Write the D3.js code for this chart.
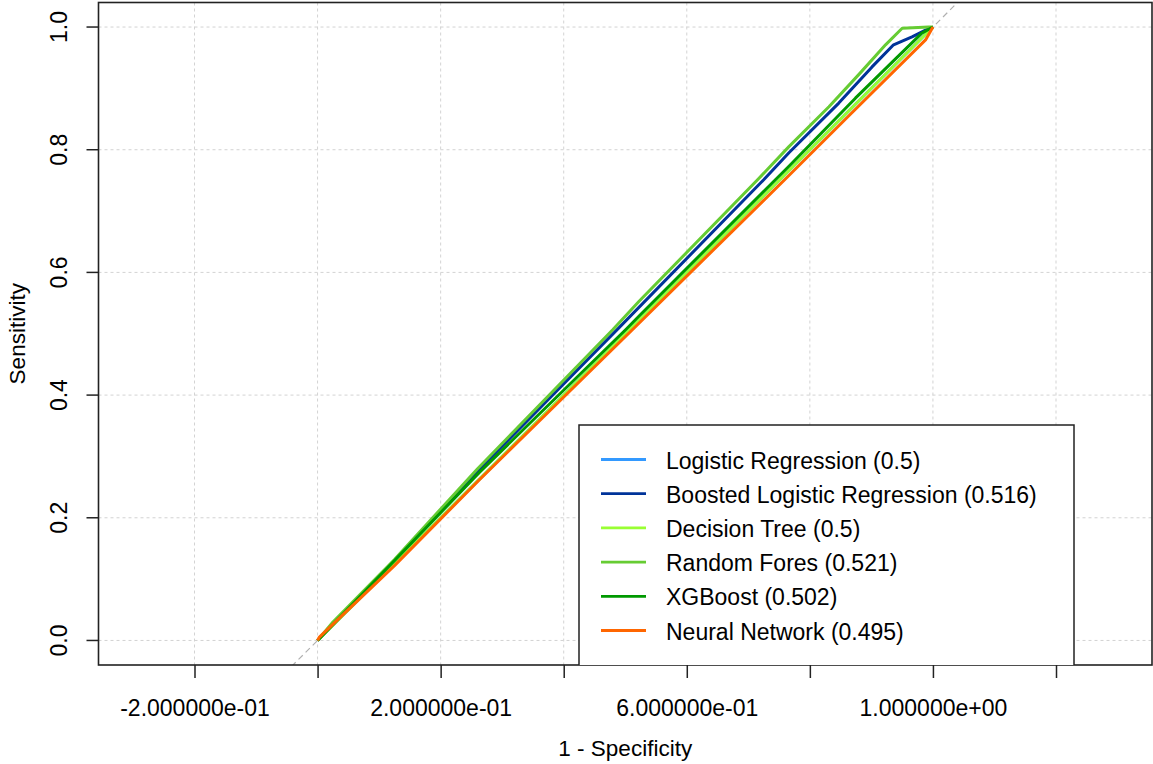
<!DOCTYPE html>
<html>
<head>
<meta charset="utf-8">
<script src="https://cdn.jsdelivr.net/npm/d3@7"></script>
<style>
  body { margin: 0; background: #fff; }
  svg { display: block; font-family: "Liberation Sans", Arial, sans-serif; }
</style>
</head>
<body>
<svg id="rocSvg" width="1153" height="764"></svg>
<script>
"use strict";

// model names + AUC as shown in the legend
var modelNames = ["Logistic Regression (0.5)", "Boosted Logistic Regression (0.516)",
  "Decision Tree (0.5)", "Random Fores (0.521)", "XGBoost (0.502)", "Neural Network (0.495)"];
var modelColors = ["#3399ff", "#003399", "#99ff33", "#66cc33", "#009900", "#ff6600"];

// [1 - specificity, sensitivity] pairs
var logisticRoc = [[0, 0], [1, 1]];
var boostedRoc = [[0, 0], [0.13, 0.135], [0.263, 0.279], [0.49, 0.51],
  [0.725, 0.751], [0.766, 0.795], [0.847, 0.876], [0.901, 0.935], [0.936, 0.971],
  [0.966, 0.984], [0.988, 0.995], [1, 1]];
var treeRoc = [[0, 0], [1, 1]];
var forestRoc = [[0, 0], [0.025, 0.03], [0.125, 0.132], [0.26, 0.28], [0.48, 0.507],
  [0.5225, 0.553], [0.715, 0.751], [0.766, 0.805], [0.831, 0.87], [0.879, 0.922],
  [0.923, 0.971], [0.95, 0.998], [0.993, 1], [1, 1]];
var xgbRoc = [[0, 0], [0.263, 0.274], [0.501, 0.507], [0.5225, 0.529], [0.744, 0.751],
  [0.766, 0.773], [0.874, 0.884], [0.982, 0.99], [1, 1]];
var nnetRoc = [[0, 0], [0.003, 0.0055], [0.125, 0.122], [0.263, 0.262], [0.512, 0.507],
  [0.766, 0.758], [0.863, 0.855], [0.988, 0.979], [1, 1]];

var xTicks = [-0.2, 0, 0.2, 0.4, 0.6, 0.8, 1.0, 1.2];
var xTickLabels = ["-2.000000e-01", "", "2.000000e-01", "", "6.000000e-01", "", "1.000000e+00", ""];
var yTicks = [0, 0.2, 0.4, 0.6, 0.8, 1.0];
var yTickLabels = ["0.0", "0.2", "0.4", "0.6", "0.8", "1.0"];

function drawRoc() {
  var svg = d3.select("#rocSvg");
  var left = 98.5, right = 1152, top = 2.5, bottom = 665;
  var fontSize = "23px";

  var x = d3.scaleLinear().domain([-0.356, 1.356]).range([left, right]);
  var y = d3.scaleLinear().domain([-0.04, 1.04]).range([bottom, top]);

  svg.append("defs").append("clipPath").attr("id", "plotClip")
    .append("rect")
    .attr("x", left).attr("y", top)
    .attr("width", right - left).attr("height", bottom - top);

  // grid
  var grid = svg.append("g").attr("class", "grid");
  grid.selectAll("line.vgrid").data(xTicks).enter().append("line")
    .attr("class", "vgrid")
    .attr("x1", function (d) { return x(d); })
    .attr("x2", function (d) { return x(d); })
    .attr("y1", top).attr("y2", bottom);
  grid.selectAll("line.hgrid").data(yTicks).enter().append("line")
    .attr("class", "hgrid")
    .attr("x1", left).attr("x2", right)
    .attr("y1", function (d) { return y(d); })
    .attr("y2", function (d) { return y(d); });
  grid.selectAll("line")
    .style("stroke", "#d3d3d3")
    .style("stroke-width", 1)
    .style("stroke-dasharray", "3,3");

  var plot = svg.append("g").attr("clip-path", "url(#plotClip)");

  // reference diagonal
  plot.append("line")
    .attr("x1", x(-0.1)).attr("y1", y(-0.1))
    .attr("x2", x(1.1)).attr("y2", y(1.1))
    .style("stroke", "#b0b0b0")
    .style("stroke-width", 1.2)
    .style("stroke-dasharray", "6,4");

  var curves = [logisticRoc, boostedRoc, treeRoc, forestRoc, xgbRoc, nnetRoc];
  var line = d3.line()
    .x(function (d) { return x(d[0]); })
    .y(function (d) { return y(d[1]); });

  plot.selectAll("path.roc").data(curves).enter().append("path")
    .attr("class", "roc")
    .attr("d", line)
    .style("fill", "none")
    .style("stroke", function (d, i) { return modelColors[i]; })
    .style("stroke-width", 3)
    .style("stroke-linejoin", "round");

  // axes
  var xAxis = d3.axisBottom(x)
    .tickValues(xTicks)
    .tickSize(13)
    .tickPadding(22)
    .tickFormat(function (d, i) { return xTickLabels[i]; });
  var xg = svg.append("g")
    .attr("transform", "translate(0," + bottom + ")")
    .call(xAxis);
  xg.select(".domain").remove();
  xg.selectAll("text").style("font-size", fontSize).style("fill", "#000")
    .style("font-family", "Liberation Sans, Arial, sans-serif");
  xg.selectAll("line").style("stroke", "#222").style("stroke-width", 1.5);

  var yAxis = d3.axisLeft(y)
    .tickValues(yTicks)
    .tickSize(12)
    .tickFormat(function (d, i) { return yTickLabels[i]; });
  var yg = svg.append("g")
    .attr("transform", "translate(" + left + ",0)")
    .call(yAxis);
  yg.select(".domain").remove();
  yg.selectAll("line").style("stroke", "#222").style("stroke-width", 1.5);
  yg.selectAll("text")
    .attr("x", null).attr("dy", null)
    .attr("text-anchor", "middle")
    .attr("transform", function (d) { return "translate(" + (67 - left) + "," + y(d) + ") rotate(-90)"; })
    .attr("y", 0)
    .style("font-size", fontSize).style("fill", "#000")
    .style("font-family", "Liberation Sans, Arial, sans-serif");
  yg.selectAll(".tick").attr("transform", null);
  yg.selectAll(".tick line")
    .attr("y1", function (d) { return y(d); })
    .attr("y2", function (d) { return y(d); });

  // box
  svg.append("rect")
    .attr("x", left).attr("y", top)
    .attr("width", right - left).attr("height", bottom - top)
    .style("fill", "none")
    .style("stroke", "#222")
    .style("stroke-width", 1.6);

  svg.append("text")
    .text("1 - Specificity")
    .attr("x", (left + right) / 2)
    .attr("y", 756)
    .attr("text-anchor", "middle")
    .style("font-size", "22.5px");

  svg.append("text")
    .text("Sensitivity")
    .attr("transform", "translate(25," + (top + bottom) / 2 + ") rotate(-90)")
    .attr("text-anchor", "middle")
    .style("font-size", "22.5px");

  drawLegend(svg, fontSize);
}

function drawLegend(svg, fontSize) {
  var legend = svg.append("g").attr("clip-path", "url(#plotClip)");
  legend.append("rect")
    .attr("x", 579).attr("y", 425)
    .attr("width", 495).attr("height", 245)
    .style("fill", "#fff")
    .style("stroke", "#222")
    .style("stroke-width", 1.5);

  var rows = legend.selectAll("g.row").data(modelNames).enter().append("g")
    .attr("class", "row")
    .attr("transform", function (d, i) { return "translate(0," + (459.5 + i * 34.2) + ")"; });
  rows.append("line")
    .attr("x1", 601).attr("x2", 646)
    .style("stroke", function (d, i) { return modelColors[i]; })
    .style("stroke-width", 2.8);
  rows.append("text")
    .text(function (d) { return d; })
    .attr("x", 666)
    .attr("y", 9)
    .style("font-size", fontSize);
}

document.addEventListener("DOMContentLoaded", function () {
  drawRoc();
});
</script>
</body>
</html>
